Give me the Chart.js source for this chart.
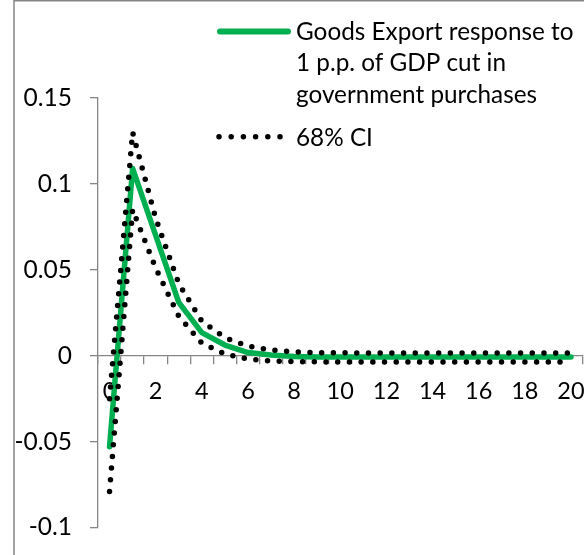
<!DOCTYPE html>
<html>
<head>
<meta charset="utf-8">
<script src="https://cdn.jsdelivr.net/npm/chart.js@4.4.1/dist/chart.umd.min.js"></script>
<style>
  html, body { margin: 0; padding: 0; background: #ffffff; }
  #wrap { width: 584px; height: 555px; position: relative; }
</style>
</head>
<body>
<div id="wrap"><canvas id="irf" width="584" height="555"></canvas></div>
<script>
// Horizons (years after the shock)
const horizons = [0, 1, 2, 3, 4, 5, 6, 7, 8, 9, 10, 11, 12, 13, 14, 15, 16, 17, 18, 19, 20];

// Goods export response to a 1 p.p. of GDP cut in government purchases
const exportResponse = [-0.053, 0.109, 0.070, 0.031, 0.0134, 0.0062, 0.0018, 0.0004, -0.0004, -0.0007,
  -0.0008, -0.0008, -0.0008, -0.0008, -0.0008, -0.0008, -0.0008, -0.0008, -0.0008, -0.0008, -0.0008];

// 68% confidence band
const ciUpper = [-0.025, 0.130, 0.080, 0.042, 0.020, 0.0105, 0.0056, 0.0033, 0.0022, 0.0018,
  0.0017, 0.0016, 0.0016, 0.0016, 0.0016, 0.0016, 0.0016, 0.0016, 0.0016, 0.0016, 0.0016];
const ciLower = [-0.079, 0.085, 0.051, 0.023, 0.0073, 0.0010, -0.0020, -0.0031, -0.0035, -0.0036,
  -0.0037, -0.0037, -0.0037, -0.0037, -0.0037, -0.0037, -0.0037, -0.0037, -0.0037, -0.0037, -0.0037];

const responseLabel = ['Goods Export response to', '1 p.p. of GDP cut in', 'government purchases'];
const ciLabel = '68% CI';

const GREEN = '#00B050';
const AXIS = '#868686';
const FONT = 'Lato, "Open Sans", sans-serif';
const DOTS = [0, 11.7];

// Outer frame of the chart object
const framePlugin = {
  id: 'frame',
  beforeDraw(chart) {
    const ctx = chart.ctx;
    ctx.save();
    ctx.fillStyle = '#ffffff';
    ctx.fillRect(0, 0, chart.width, chart.height);
    ctx.strokeStyle = AXIS;
    ctx.lineWidth = 1.5;
    ctx.beginPath();
    ctx.moveTo(14, chart.height);
    ctx.lineTo(14, 0.75);
    ctx.lineTo(chart.width, 0.75);
    ctx.stroke();
    ctx.restore();
  }
};

// Legend with a wrapped entry, top right
const legendPlugin = {
  id: 'wrappedLegend',
  afterDraw(chart) {
    const ctx = chart.ctx;
    const ds = chart.data.datasets;
    ctx.save();
    ctx.font = '24.3px ' + FONT;
    ctx.fillStyle = '#000000';
    ctx.textBaseline = 'alphabetic';
    ctx.textAlign = 'left';

    // solid response line sample
    ctx.strokeStyle = ds[0].borderColor;
    ctx.lineWidth = 6;
    ctx.lineCap = 'round';
    ctx.beginPath();
    ctx.moveTo(220, 31.5);
    ctx.lineTo(288, 31.5);
    ctx.stroke();
    responseLabel.forEach((line, i) => ctx.fillText(line, 296, 39.5 + i * 31.5));

    // dotted band sample
    ctx.strokeStyle = ds[1].borderColor;
    ctx.lineWidth = 5.5;
    ctx.setLineDash([0, 12.2]);
    ctx.beginPath();
    ctx.moveTo(219, 136.7);
    ctx.lineTo(282, 136.7);
    ctx.stroke();
    ctx.setLineDash([]);
    ctx.fillText(ciLabel, 296, 145.5);
    ctx.restore();
  }
};

Chart.defaults.font.family = FONT;
Chart.defaults.font.size = 23;
Chart.defaults.color = '#000000';

new Chart(document.getElementById('irf'), {
  type: 'line',
  data: {
    labels: horizons,
    datasets: [
      {
        label: responseLabel.join(' '),
        data: exportResponse,
        borderColor: GREEN,
        borderWidth: 5.5,
        borderJoinStyle: 'round',
        borderCapStyle: 'round',
        pointRadius: 0,
        tension: 0,
        fill: false,
        order: 2
      },
      {
        label: ciLabel,
        data: ciUpper,
        borderColor: '#000000',
        borderWidth: 5.5,
        borderDash: DOTS,
        borderCapStyle: 'round',
        pointRadius: 0,
        tension: 0,
        fill: false,
        order: 1
      },
      {
        label: ciLabel,
        data: ciLower,
        borderColor: '#000000',
        borderWidth: 5.5,
        borderDash: DOTS,
        borderCapStyle: 'round',
        pointRadius: 0,
        tension: 0,
        fill: false,
        order: 1
      }
    ]
  },
  options: {
    responsive: false,
    animation: false,
    events: [],
    layout: { padding: { left: 0, top: 98, right: 1.5, bottom: 27.5 } },
    plugins: {
      legend: { display: false },
      tooltip: { enabled: false }
    },
    scales: {
      x: {
        type: 'category',
        position: { y: 0 },
        offset: true,
        grid: { offset: true, drawOnChartArea: false, tickLength: 8, color: AXIS, lineWidth: 1.3 },
        border: { color: AXIS, width: 1.3 },
        ticks: {
          autoSkip: false,
          maxRotation: 0,
          minRotation: 0,
          padding: 14,
          color: '#000000',
          font: { size: 23.5 },
          callback(value, index) {
            return horizons[index] % 2 === 0 ? String(horizons[index]) : '';
          }
        },
        afterFit(scale) {
          scale.height = 20;
          scale.paddingLeft = 0;
          scale.paddingRight = 0;
        }
      },
      y: {
        min: -0.1,
        max: 0.15,
        grid: { drawOnChartArea: false, tickLength: 8, color: AXIS, lineWidth: 1.3 },
        border: { color: AXIS, width: 1.3 },
        ticks: {
          stepSize: 0.05,
          padding: 18,
          color: '#000000',
          font: { size: 24.5 },
          callback(value) { return String(Number(value.toFixed(2))); }
        },
        afterFit(scale) {
          scale.width = 98;
          scale.paddingTop = 0;
          scale.paddingBottom = 0;
        }
      }
    }
  },
  plugins: [framePlugin, legendPlugin]
});
</script>
</body>
</html>
